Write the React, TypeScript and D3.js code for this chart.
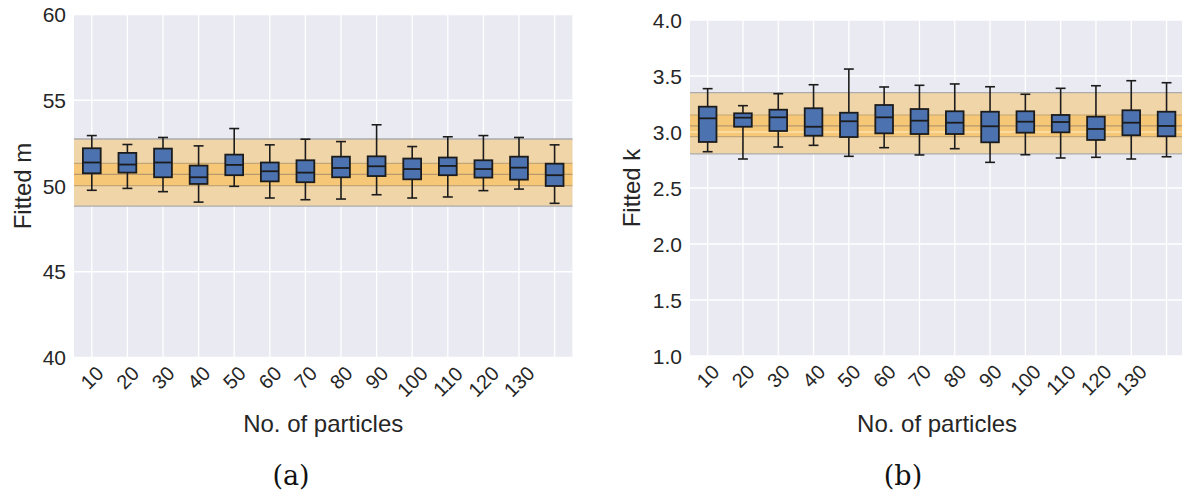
import { useEffect } from 'react';
import * as d3 from 'd3';

// x categories (14 boxes, only 13 labelled in the original figure)
const particleLabels = ['10', '20', '30', '40', '50', '60', '70', '80', '90', '100', '110', '120', '130'];
const boxCount = 14;

// panel (a): fitted m
const mLow = [49.75, 49.86, 49.67, 49.06, 49.98, 49.3, 49.2, 49.24, 49.49, 49.3, 49.36, 49.73, 49.82, 48.99];
const mQ1 = [50.74, 50.78, 50.51, 50.12, 50.63, 50.27, 50.22, 50.51, 50.58, 50.39, 50.63, 50.49, 50.37, 50.0];
const mMed = [51.37, 51.25, 51.37, 50.51, 51.23, 50.86, 50.78, 51.05, 51.15, 50.99, 51.17, 50.99, 51.07, 50.63];
const mQ3 = [52.2, 51.93, 52.18, 51.19, 51.83, 51.37, 51.5, 51.71, 51.73, 51.6, 51.66, 51.5, 51.71, 51.3];
const mHigh = [52.94, 52.42, 52.83, 52.34, 53.35, 52.4, 52.73, 52.59, 53.57, 52.3, 52.87, 52.94, 52.83, 52.4];
const mTicks = [40, 45, 50, 55, 60];
const mBandOuter = [48.83, 52.74];
const mBandInner = [50.02, 51.32];
const mMean = 50.68;

// panel (b): fitted k
const kLow = [2.824, 2.759, 2.866, 2.881, 2.783, 2.86, 2.795, 2.851, 2.729, 2.797, 2.768, 2.774, 2.759, 2.779];
const kQ1 = [2.911, 3.047, 3.009, 2.967, 2.955, 2.988, 2.982, 2.982, 2.908, 2.994, 2.997, 2.929, 2.971, 2.962];
const kMed = [3.122, 3.128, 3.131, 3.047, 3.096, 3.131, 3.101, 3.083, 3.051, 3.092, 3.089, 3.027, 3.083, 3.054];
const kQ3 = [3.226, 3.167, 3.199, 3.212, 3.172, 3.241, 3.205, 3.185, 3.181, 3.185, 3.152, 3.137, 3.194, 3.181];
const kHigh = [3.387, 3.235, 3.342, 3.422, 3.562, 3.402, 3.417, 3.429, 3.404, 3.337, 3.39, 3.413, 3.458, 3.44];
const kTicks = [1.0, 1.5, 2.0, 2.5, 3.0, 3.5, 4.0];
const kBandOuter = [2.804, 3.351];
const kBandInner = [2.958, 3.152];
const kMean = 3.054;
const kTrue = 3.0;

const sans = 'Liberation Sans, Arial, Helvetica, sans-serif';

interface PanelProps {
  left: number;
  top: number;
  bottom: number;
  unit: number;
  domain: [number, number];
  ticks: number[];
  fmt: (v: number) => string;
  ylabel: string;
  ylabelX: number;
  low: number[];
  q1: number[];
  med: number[];
  q3: number[];
  high: number[];
  outer: number[];
  inner: number[];
  mean: number;
  truth?: number;
  caption: string;
  captionX: number;
}

function Panel(p: PanelProps) {
  const width = p.unit * boxCount;
  const x = d3.scaleLinear().domain([0.5, boxCount + 0.5]).range([p.left, p.left + width]);
  const y = d3.scaleLinear().domain(p.domain).range([p.bottom, p.top]);
  const positions = d3.range(1, boxCount + 1);
  const boxW = x(1.25) - x(1);
  const capW = x(1.14) - x(1);
  const fs = 21;

  return (
    <g>
      <rect x={p.left} y={p.top} width={width} height={p.bottom - p.top} fill="#EAEAF2" />
      {p.ticks.map(t => (
        <line key={'gy' + t} x1={p.left} x2={p.left + width} y1={y(t)} y2={y(t)} stroke="#fff" strokeWidth={1.3} />
      ))}
      {positions.map(i => (
        <line key={'gx' + i} x1={x(i)} x2={x(i)} y1={p.top} y2={p.bottom} stroke="#fff" strokeWidth={1.3} />
      ))}
      {/* spread bands */}
      <rect x={p.left} width={width} y={y(p.outer[1])} height={y(p.outer[0]) - y(p.outer[1])} fill="#F0D5A9" />
      <rect x={p.left} width={width} y={y(p.inner[1])} height={y(p.inner[0]) - y(p.inner[1])} fill="#F5C777" />
      {p.outer.map((v, i) => (
        <line key={'ob' + i} x1={p.left} x2={p.left + width} y1={y(v)} y2={y(v)} stroke="#ababab" strokeWidth={1.3} />
      ))}
      {p.inner.map((v, i) => (
        <line key={'ib' + i} x1={p.left} x2={p.left + width} y1={y(v)} y2={y(v)} stroke="#c4a574" strokeWidth={1.2} />
      ))}
      {p.truth !== undefined && (
        <line x1={p.left} x2={p.left + width} y1={y(p.truth)} y2={y(p.truth)} stroke="#fde2ae" strokeWidth={1.6} />
      )}
      <line x1={p.left} x2={p.left + width} y1={y(p.mean)} y2={y(p.mean)} stroke="#b89a6c" strokeWidth={1.3} />

      {/* boxes */}
      {positions.map((pos, i) => {
        const cx = x(pos);
        return (
          <g key={'b' + i} stroke="#1c1c1c" strokeWidth={1.6}>
            <line x1={cx} x2={cx} y1={y(p.high[i])} y2={y(p.q3[i])} />
            <line x1={cx} x2={cx} y1={y(p.q1[i])} y2={y(p.low[i])} />
            <line x1={cx - capW} x2={cx + capW} y1={y(p.high[i])} y2={y(p.high[i])} />
            <line x1={cx - capW} x2={cx + capW} y1={y(p.low[i])} y2={y(p.low[i])} />
            <rect x={cx - boxW} width={boxW * 2} y={y(p.q3[i])} height={y(p.q1[i]) - y(p.q3[i])} fill="#4C72B0" strokeWidth={1.8} />
            <line x1={cx - boxW} x2={cx + boxW} y1={y(p.med[i])} y2={y(p.med[i])} strokeWidth={1.8} />
          </g>
        );
      })}

      {/* y ticks */}
      {p.ticks.map(t => (
        <text key={'ty' + t} x={p.left - 8} y={y(t)} dy="0.36em" textAnchor="end" fontSize={fs} fontFamily={sans} fill="#262626">
          {p.fmt(t)}
        </text>
      ))}
      {/* x ticks, rotated 45 degrees */}
      {particleLabels.map((lab, i) => {
        const tw = lab.length * 0.556 * 20;
        const h = (tw + 0.72 * 20) * 0.7071;
        const yc = p.bottom + 7 + h / 2;
        return (
          <text key={'tx' + i} transform={`translate(${x(i + 1)},${yc}) rotate(-45)`} textAnchor="middle" dy="0.36em" fontSize={20} fontFamily={sans} fill="#262626">
            {lab}
          </text>
        );
      })}
      <text x={p.ylabelX} y={(p.top + p.bottom) / 2} transform={`rotate(-90 ${p.ylabelX} ${(p.top + p.bottom) / 2})`} textAnchor="middle" dy="0.36em" fontSize={24} fontFamily={sans} fill="#262626">
        {p.ylabel}
      </text>
      <text x={p.left + width / 2} y={432} textAnchor="middle" fontSize={24} fontFamily={sans} fill="#262626">
        No. of particles
      </text>
      <text x={p.captionX} y={485} textAnchor="middle" fontSize={27} fontFamily="DejaVu Serif, Liberation Serif, serif" fontWeight={300} fill="#111">
        {p.caption}
      </text>
    </g>
  );
}

export default function App() {
  useEffect(() => {
    document.body.style.margin = '0';
  }, []);

  return (
    <svg width={1182} height={497} style={{ display: 'block', background: '#fff' }}>
      <Panel
        left={74}
        top={14.5}
        bottom={357.5}
        unit={35.6}
        domain={[40, 60]}
        ticks={mTicks}
        fmt={d3.format('d')}
        ylabel="Fitted m"
        ylabelX={22}
        low={mLow}
        q1={mQ1}
        med={mMed}
        q3={mQ3}
        high={mHigh}
        outer={mBandOuter}
        inner={mBandInner}
        mean={mMean}
        caption="(a)"
        captionX={291}
      />
      <Panel
        left={690}
        top={20}
        bottom={356}
        unit={35.3}
        domain={[1, 4]}
        ticks={kTicks}
        fmt={d3.format('.1f')}
        ylabel="Fitted k"
        ylabelX={631}
        low={kLow}
        q1={kQ1}
        med={kMed}
        q3={kQ3}
        high={kHigh}
        outer={kBandOuter}
        inner={kBandInner}
        mean={kMean}
        truth={kTrue}
        caption="(b)"
        captionX={903}
      />
    </svg>
  );
}
